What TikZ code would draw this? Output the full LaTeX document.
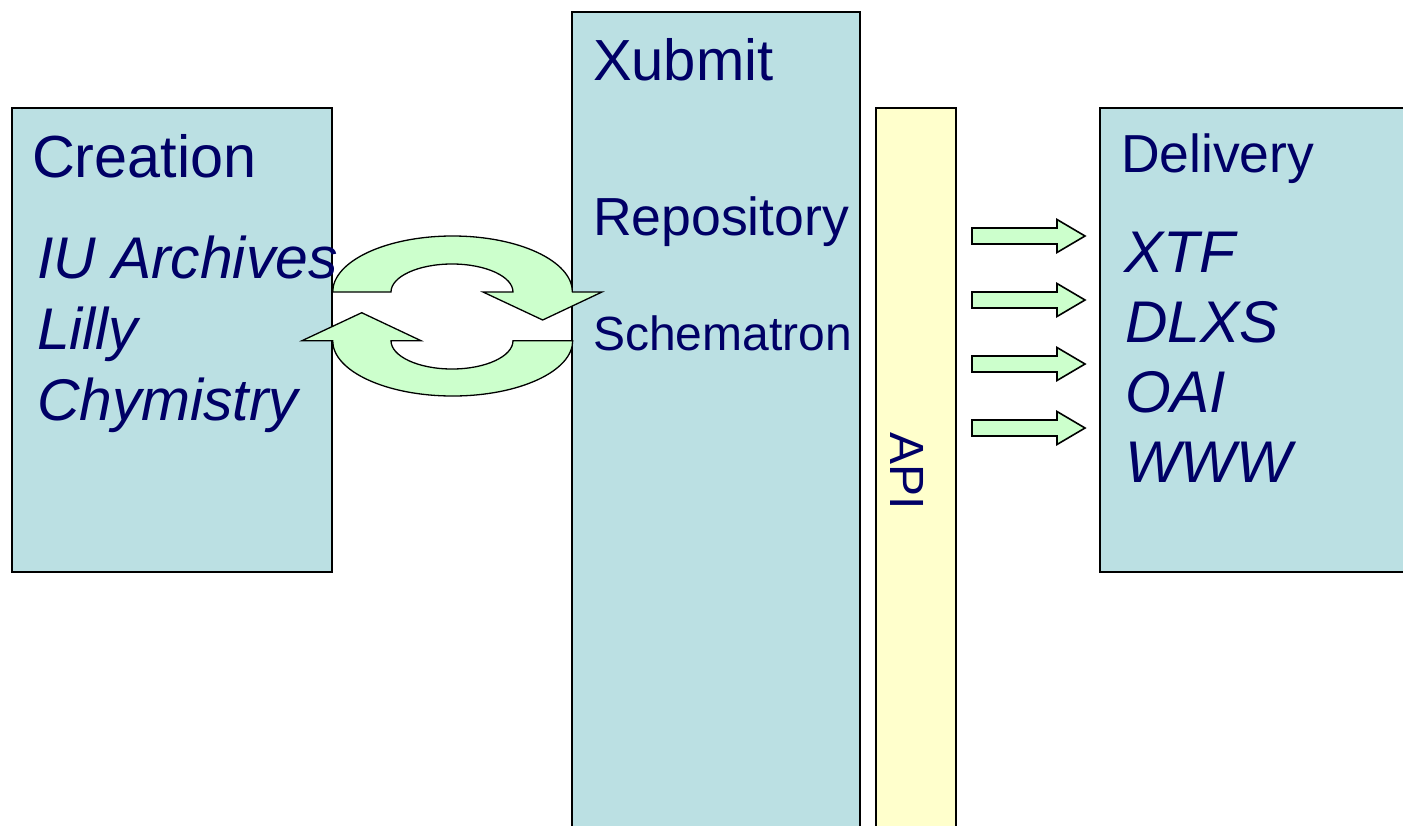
\documentclass[tikz,border=0pt]{standalone}
\usepackage{fontspec}
\setmainfont{Liberation Sans}
\definecolor{boxfill}{RGB}{187,224,227}
\definecolor{apifill}{RGB}{255,255,204}
\definecolor{arrfill}{RGB}{204,255,204}
\definecolor{txt}{RGB}{0,0,102}
\begin{document}
\begin{tikzpicture}[x=1pt,y=-1pt,
  panel/.style={draw=black, line width=1.2pt, anchor=north west, inner sep=0pt, outer sep=0pt},
  lbl/.style={anchor=base west, inner sep=0pt, outer sep=0pt, text=txt},
  fsixty/.style={font=\fontsize{59.4}{70}\selectfont},
  ffiftyeight/.style={font=\fontsize{58}{70}\selectfont},
  ffiftyfour/.style={font=\fontsize{53.6}{64}\selectfont},
  ffortyeight/.style={font=\fontsize{48}{58}\selectfont},
  itl/.style={font=\fontsize{58.8}{70}\selectfont\itshape},
  blockarrow/.style={draw=black, line width=1.3pt, fill=arrfill, line join=miter},
  smallarrow/.style={draw=black, line width=1.6pt, fill=arrfill, line join=miter},
]
\useasboundingbox (0,0) rectangle (1403,825);
\fill[white] (0,0) rectangle (1403,825);

% panels
\node[panel, fill=boxfill, minimum width=320pt, minimum height=464pt] (creation) at (12,108) {};
\node[panel, fill=boxfill, minimum width=288pt, minimum height=830pt] (xubmit) at (572,12) {};
\node[panel, fill=apifill, minimum width=80pt, minimum height=730pt] (api) at (876,108) {};
\node[panel, fill=boxfill, minimum width=330pt, minimum height=464pt] (delivery) at (1100,108) {};

% texts
\node[lbl, fsixty] (tcreation) at (32,177) {Creation};
\node[lbl, itl] (tiu) at (37,278) {IU Archives};
\node[lbl, itl] (tlilly) at (37,349) {Lilly};
\node[lbl, itl] (tchym) at (37,420) {Chymistry};

\node[lbl, ffiftyeight] (txubmit) at (593,80) {Xubmit};
\node[lbl, ffiftyfour] (trepo) at (593,235) {Repository};
\node[lbl, ffortyeight] (tschem) at (593,350) {Schematron};

\node[lbl, font=\fontsize{48}{58}\selectfont, rotate=-90] (tapi) at (890,432) {API};

\node[lbl, font=\fontsize{53.5}{64}\selectfont] (tdelivery) at (1121,172) {Delivery};
\node[lbl, itl] (txtf) at (1124,272) {XTF};
\node[lbl, itl] (tdlxs) at (1125,342) {DLXS};
\node[lbl, itl] (toai) at (1125,412) {OAI};
\node[lbl, itl] (twww) at (1125,482) {WWW};

% curved arrows between Creation and Xubmit
\draw[blockarrow] (332.7,292)
  arc[start angle=180, end angle=360, x radius=119.85, y radius=56]
  -- (602,292) -- (542.7,320) -- (483,292) -- (513,292)
  arc[start angle=360, end angle=180, x radius=61, y radius=28]
  -- cycle;
\draw[blockarrow] (572.7,340.7)
  arc[start angle=0, end angle=180, x radius=120, y radius=55.3]
  -- (302,340.7) -- (361.7,312.7) -- (421,340.7) -- (391,340.7)
  arc[start angle=180, end angle=0, x radius=61, y radius=28.3]
  -- cycle;

% small arrows from API to Delivery
\foreach \c in {236,300,364,428}{
  \draw[smallarrow] (972,\c-8) -- (1057,\c-8) -- (1057,\c-16.5) -- (1085,\c)
    -- (1057,\c+16.5) -- (1057,\c+8) -- (972,\c+8) -- cycle;
}
\end{tikzpicture}
\end{document}
